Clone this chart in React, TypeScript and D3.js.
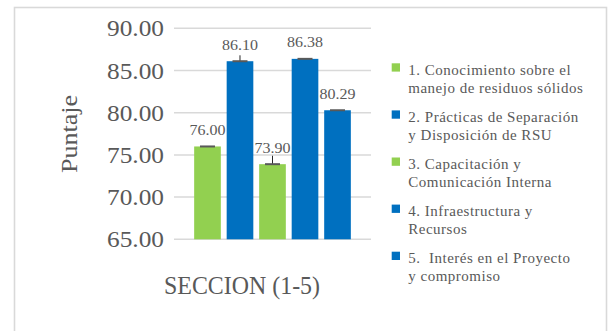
import React from "react";
import * as d3 from "d3";

const categories = ["SECCION (1-5)"];
const seriesNames = [
  ["1. Conocimiento sobre el", "manejo de residuos sólidos"],
  ["2. Prácticas de Separación", "y Disposición de RSU"],
  ["3. Capacitación y", "Comunicación Interna"],
  ["4. Infraestructura y", "Recursos"],
  ["5.  Interés en el Proyecto", "y compromiso"],
];
const seriesValues = [76.0, 86.1, 73.9, 86.38, 80.29];
const errorPlus = [0, 0.7, 1.0, 0, 0];
const yTicks = [65, 70, 75, 80, 85, 90];
const yTitle = "Puntaje";

const GREEN = "#92d050";
const BLUE = "#0070c0";
const seriesColors = [GREEN, BLUE, GREEN, BLUE, BLUE];
const TEXT = "#595959";
const GRID = "#d9d9d9";
const FONT = "'Liberation Serif', serif";

export default function App() {
  const W = 608, H = 331;
  const plotLeft = 174, plotRight = 371, plotTop = 28.3, plotBottom = 239.3;

  const y = d3.scaleLinear().domain([65, 90]).range([plotBottom, plotTop]);
  const x0 = d3.scaleBand<string>().domain(categories).range([plotLeft, plotRight]).padding(0.114);
  const x1 = d3
    .scaleBand<number>()
    .domain(seriesValues.map((_, i) => i))
    .range([0, x0.bandwidth()])
    .paddingInner(0.18)
    .paddingOuter(0);

  const cat = categories[0];
  const gx = x0(cat) as number;
  const bw = x1.bandwidth();

  return (
    <svg
      width={W}
      height={H}
      style={{ position: "absolute", left: 0, top: 0, background: "#fff" }}
      fontFamily={FONT}
    >
      <rect x={14.5} y={7.5} width={592} height={340} fill="#fff" stroke={GRID} strokeWidth={1.6} />

      {/* gridlines */}
      {yTicks.map((t) => (
        <line key={"g" + t} x1={plotLeft} x2={plotRight} y1={y(t)} y2={y(t)} stroke={GRID} strokeWidth={1.5} />
      ))}

      {/* tick labels */}
      {yTicks.map((t) => (
        <text
          key={"t" + t}
          x={164}
          y={y(t) + 8}
          textAnchor="end"
          fontSize={23}
          fill={TEXT}
          textLength={57}
          lengthAdjust="spacingAndGlyphs"
        >
          {t.toFixed(2)}
        </text>
      ))}

      {/* bars */}
      {seriesValues.map((v, i) => {
        const bx = gx + (x1(i) as number);
        return (
          <rect key={"b" + i} x={bx} y={y(v)} width={bw} height={y(65) - y(v)} fill={seriesColors[i]} />
        );
      })}

      {/* error bars */}
      {seriesValues.map((v, i) => {
        const cx = gx + (x1(i) as number) + bw / 2;
        return (
          <g key={"e" + i}>
            {errorPlus[i] > 0 && (
              <line x1={cx} x2={cx} y1={y(v)} y2={y(v + errorPlus[i])} stroke="#262626" strokeWidth={1} />
            )}
            <line x1={cx - 7.5} x2={cx + 7.5} y1={y(v)} y2={y(v)} stroke="#595959" strokeWidth={2} />
          </g>
        );
      })}

      {/* data labels */}
      {seriesValues.map((v, i) => {
        const cx = gx + (x1(i) as number) + bw / 2;
        return (
          <text
            key={"l" + i}
            x={cx}
            y={y(v) - 11.5}
            textAnchor="middle"
            fontSize={15}
            fill={TEXT}
            textLength={36}
            lengthAdjust="spacingAndGlyphs"
          >
            {v.toFixed(2)}
          </text>
        );
      })}

      {/* y title */}
      <text
        transform={`translate(77,134) rotate(-90)`}
        textAnchor="middle"
        fontSize={23}
        fill={TEXT}
        textLength={78}
        lengthAdjust="spacingAndGlyphs"
      >
        {yTitle}
      </text>

      {/* x category / title */}
      <text
        x={242}
        y={294}
        textAnchor="middle"
        fontSize={26}
        fill={TEXT}
        textLength={156}
        lengthAdjust="spacingAndGlyphs"
      >
        {cat}
      </text>

      {/* legend */}
      {seriesNames.map((lines, i) => {
        const top = 63.3 + i * 47.1;
        return (
          <g key={"lg" + i}>
            <rect x={391.7} y={top} width={8.3} height={8.3} fill={seriesColors[i]} />
            {lines.map((ln, j) => (
              <text
                key={j}
                x={408.3}
                y={top + 11.7 + j * 17.8}
                fontSize={15}
                fill={TEXT}
                letterSpacing={0.5}
                style={{ whiteSpace: "pre" }}
              >
                {ln}
              </text>
            ))}
          </g>
        );
      })}
    </svg>
  );
}
